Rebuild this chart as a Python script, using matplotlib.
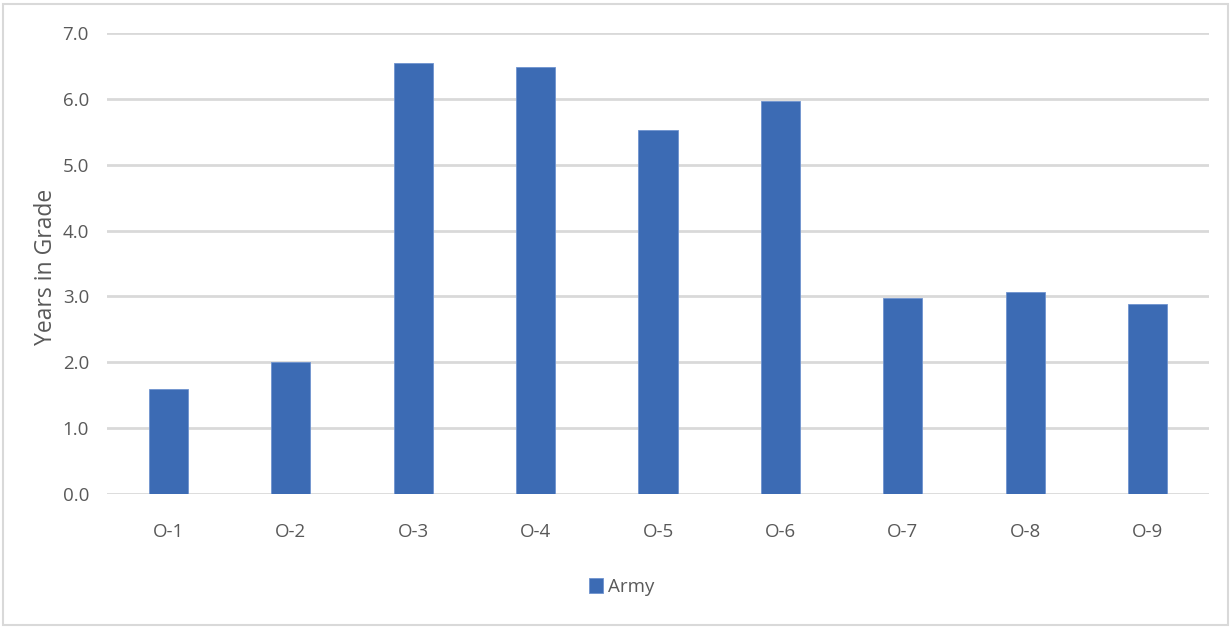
import numpy as np
import matplotlib
matplotlib.use('Agg')
import matplotlib.pyplot as plt
from matplotlib.patches import Rectangle

grades = ['O-1', 'O-2', 'O-3', 'O-4', 'O-5', 'O-6', 'O-7', 'O-8', 'O-9']
army = [1.60, 2.00, 6.54, 6.49, 5.52, 5.96, 2.97, 3.06, 2.89]
yticks = [0, 1, 2, 3, 4, 5, 6, 7]

plt.rcParams['font.family'] = ['Open Sans', 'DejaVu Sans']
txt = '#595959'
grid_c = '#d9d9d9'

fig = plt.figure(figsize=(12.32, 6.28), dpi=100)
ax = fig.add_axes([107/1232, 1-494/628, 1102/1232, (494-33)/628])

x = np.arange(len(grades))
ax.bar(x, army, width=0.32, color='#3c6bb4', edgecolor='#6f93cf', linewidth=0.6,
       label='Army', zorder=3)

ax.set_xlim(-0.5, len(grades) - 0.5)
ax.set_ylim(0, 7)
ax.set_yticks(yticks)
ax.set_yticklabels(['%.1f' % v for v in yticks])
ax.set_xticks(x)
ax.set_xticklabels(grades)
ax.tick_params(axis='both', length=0, labelsize=13.5, colors=txt)
ax.tick_params(axis='x', pad=21)
ax.tick_params(axis='y', pad=13)
ax.grid(axis='y', color=grid_c, linewidth=2, zorder=0)
for s in ax.spines.values():
    s.set_visible(False)

# y axis title placed by hand, like the excel chart
fig.text(46/1232, 1-267/628, 'Years in Grade', rotation=90, ha='center', va='center',
         fontsize=16.5, color=txt)

leg = fig.legend(loc='center', bbox_to_anchor=(622/1232, 1-587/628), frameon=False,
                 fontsize=13.5, handlelength=0.7, handleheight=0.9, handletextpad=0.3)
for t in leg.get_texts():
    t.set_color(txt)

fig.patches.append(Rectangle((3/1232, 3/628), 1225/1232, 621/628, transform=fig.transFigure,
                             fill=False, edgecolor=grid_c, linewidth=1.5))

fig.savefig('out.png', dpi=100)
